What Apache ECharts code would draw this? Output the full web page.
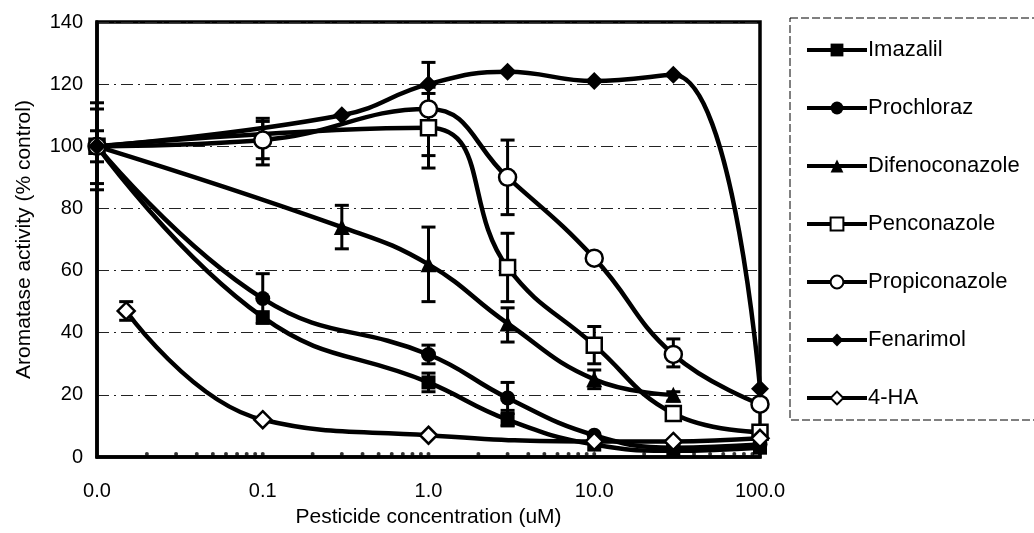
<!DOCTYPE html>
<html>
<head>
<meta charset="utf-8">
<script src="https://cdn.jsdelivr.net/npm/echarts@6/dist/echarts.min.js"></script>
<style>
html,body{margin:0;padding:0;background:#fff;}
#chart{width:1034px;height:533px;}
</style>
</head>
<body>
<div id="chart"></div>
<script>
// ---- data ----
const seriesNames = ['Imazalil','Prochloraz','Difenoconazole','Penconazole','Propiconazole','Fenarimol','4-HA'];

const imazalilX = [0.01, 0.1, 1, 3, 10, 30, 100];
const imazalilY = [100, 45, 24, 12, 4, 2, 3];

const prochlorazX = [0.01, 0.1, 1, 3, 10, 30, 100];
const prochlorazY = [100, 51, 33, 19, 7, 3, 4];

const difenoconazoleX = [0.01, 0.3, 1, 3, 10, 30];
const difenoconazoleY = [100, 74, 62, 43, 25, 20];

const penconazoleX = [0.01, 1, 3, 10, 30, 100];
const penconazoleY = [100, 106, 61, 36, 14, 8];

const propiconazoleX = [0.01, 0.1, 1, 3, 10, 30, 100];
const propiconazoleY = [100, 102, 112, 90, 64, 33, 17];

const fenarimolX = [0.01, 0.3, 1, 3, 10, 30, 100];
const fenarimolY = [100, 110, 120, 124, 121, 123, 22];

const haX = [0.015, 0.1, 1, 10, 30, 100];
const haY = [47, 12, 7, 5, 5, 6];

// error bars: [x, low, high]
const errorBars = [
  [0.01, 86, 114], [0.01, 88, 112], [0.01, 95, 105],
  [0.015, 44, 50],
  [0.1, 94, 109], [0.1, 96, 108], [0.1, 43, 59],
  [0.3, 67, 81],
  [1, 113, 127], [1, 93, 119], [1, 97, 117], [1, 50, 74], [1, 30, 36], [1, 21, 27],
  [3, 78, 102], [3, 50, 72], [3, 37, 48], [3, 14, 24], [3, 10, 15],
  [10, 30, 42], [10, 22, 28],
  [30, 29, 38], [30, 18, 21]
];

const yTicks = [0, 20, 40, 60, 80, 100, 120, 140];
const xMinorTicks = [];
for (let e = -2; e < 2; e++) {
  for (let m = 2; m <= 10; m++) xMinorTicks.push(+(m * Math.pow(10, e)).toPrecision(3));
}

function pairs(xs, ys) { return xs.map((x, i) => [x, ys[i]]); }

const styles = {
  'Imazalil':       { symbol: 'rect',     size: 14, fill: '#000' },
  'Prochloraz':     { symbol: 'circle',   size: 15, fill: '#000' },
  'Difenoconazole': { symbol: 'triangle', size: 16, fill: '#000' },
  'Penconazole':    { symbol: 'rect',     size: 15, fill: '#fff' },
  'Propiconazole':  { symbol: 'circle',   size: 17, fill: '#fff' },
  'Fenarimol':      { symbol: 'diamond',  size: 18, fill: '#000' },
  '4-HA':           { symbol: 'diamond',  size: 17, fill: '#fff' }
};
const seriesData = {
  'Imazalil': pairs(imazalilX, imazalilY),
  'Prochloraz': pairs(prochlorazX, prochlorazY),
  'Difenoconazole': pairs(difenoconazoleX, difenoconazoleY),
  'Penconazole': pairs(penconazoleX, penconazoleY),
  'Propiconazole': pairs(propiconazoleX, propiconazoleY),
  'Fenarimol': pairs(fenarimolX, fenarimolY),
  '4-HA': pairs(haX, haY)
};

const lineSeries = seriesNames.map(name => {
  const s = styles[name];
  return {
    name: name,
    type: 'line',
    smooth: 0.45,
    data: seriesData[name],
    symbol: s.symbol,
    symbolSize: s.size,
    showAllSymbol: true,
    z: 3,
    lineStyle: { color: '#000', width: 4.5 },
    itemStyle: { color: s.fill, borderColor: '#000', borderWidth: s.fill === '#fff' ? 2.5 : 0 },
    emphasis: { disabled: true },
    animation: false
  };
});

const chart = echarts.init(document.getElementById('chart'), null, { renderer: 'canvas' });
chart.setOption({
  backgroundColor: '#fff',
  animation: false,
  textStyle: { fontFamily: 'Liberation Sans, Arial, sans-serif', color: '#000' },
  grid: { left: 97, right: 274, top: 22, bottom: 73, show: true, borderColor: '#000', borderWidth: 3.5, backgroundColor: 'transparent' },
  legend: {
    data: seriesNames,
    orient: 'vertical',
    left: 800,
    top: 34,
    itemWidth: 60,
    itemHeight: 16,
    itemGap: 36,
    lineStyle: { width: 4, color: '#000' },
    textStyle: { fontSize: 22, color: '#000', lineHeight: 22, padding: [0, 0, 0, -4], fontFamily: 'Liberation Sans, Arial, sans-serif' }
  },
  graphic: [{
    type: 'rect',
    shape: { x: 790, y: 18, width: 260, height: 402 },
    style: { fill: 'none', stroke: '#000', lineWidth: 1, lineDash: [8, 3] },
    silent: true
  }],
  xAxis: {
    type: 'log',
    logBase: 10,
    min: 0.01,
    max: 100,
    name: 'Pesticide concentration (uM)',
    nameLocation: 'middle',
    nameGap: 50,
    nameTextStyle: { fontSize: 21, color: '#000' },
    axisLine: { lineStyle: { color: '#000', width: 3.5 } },
    axisTick: { show: false },
    splitLine: { show: false },
    minorTick: { show: false },
    axisLabel: { fontSize: 20, color: '#000', margin: 24, formatter: v => v.toFixed(1) }
  },
  yAxis: {
    type: 'value',
    min: yTicks[0],
    max: yTicks[yTicks.length - 1],
    interval: 20,
    name: 'Aromatase activity (% control)',
    nameLocation: 'middle',
    nameGap: 62,
    nameTextStyle: { fontSize: 21, color: '#000', padding: [0, 0, 0, 0] },
    axisLine: { show: true, lineStyle: { color: '#000', width: 3.5 } },
    axisTick: { show: false },
    splitLine: { show: true, lineStyle: { color: '#222', width: 1, type: [12, 5, 2, 5] } },
    axisLabel: { fontSize: 20, color: '#000', margin: 14 }
  },
  series: [
    {
      name: 'minorTicks',
      type: 'scatter',
      data: xMinorTicks.map(x => [x, 0]),
      symbol: 'circle',
      symbolSize: 4,
      symbolOffset: [0, -3],
      itemStyle: { color: '#000' },
      z: 2,
      silent: true
    },
    {
      name: 'errorBars',
      type: 'custom',
      data: errorBars,
      encode: { x: 0, y: [1, 2] },
      z: 1,
      silent: true,
      renderItem: function (params, api) {
        const x = api.value(0);
        const lo = api.coord([x, api.value(1)]);
        const hi = api.coord([x, api.value(2)]);
        const hw = 7;
        const st = { stroke: '#000', lineWidth: 3 };
        return {
          type: 'group',
          children: [
            { type: 'line', shape: { x1: lo[0], y1: lo[1], x2: hi[0], y2: hi[1] }, style: st },
            { type: 'line', shape: { x1: lo[0] - hw, y1: lo[1], x2: lo[0] + hw, y2: lo[1] }, style: st },
            { type: 'line', shape: { x1: hi[0] - hw, y1: hi[1], x2: hi[0] + hw, y2: hi[1] }, style: st }
          ]
        };
      }
    }
  ].concat(lineSeries)
});
</script>
</body>
</html>
